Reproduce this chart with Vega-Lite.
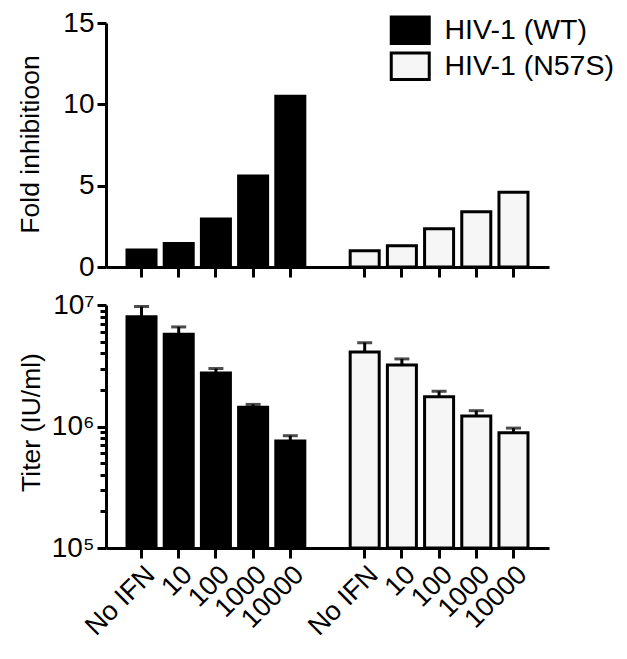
{
  "$schema": "https://vega.github.io/schema/vega-lite/v6.json",
  "padding": {"left": 16, "top": 9, "right": 0, "bottom": 0},
  "background": "white",
  "bounds": "flush",
  "spacing": 38,
  "config": {
    "font": "Liberation Sans",
    "view": {"stroke": null},
    "axis": {
      "domainColor": "black", "domainWidth": 3, "tickColor": "black", "tickWidth": 3,
      "labelColor": "black", "labelFontSize": 28, "labelFont": "Liberation Sans",
      "titleFontSize": 26.5, "titleFontWeight": "normal", "titleColor": "black", "titleFont": "Liberation Sans",
      "grid": false
    },
    "legend": {
      "orient": "none", "legendX": 290, "legendY": -7, "padding": 0,
      "symbolType": "M-2,-1.4H2V1.4H-2Z", "symbolSize": 361,
      "symbolStrokeColor": "black", "symbolStrokeWidth": 3,
      "labelFontSize": 28.5, "labelFont": "Liberation Sans", "labelColor": "black",
      "labelOffset": 20, "labelLimit": 400, "rowPadding": -4, "title": null
    }
  },
  "datasets": {
    "d": [
      {"strain": "HIV-1 (WT)", "key": "WT|No IFN", "fold": 1.05, "titer": 8000000, "titer_hi": 9700000},
      {"strain": "HIV-1 (WT)", "key": "WT|10", "fold": 1.45, "titer": 5750000, "titer_hi": 6600000},
      {"strain": "HIV-1 (WT)", "key": "WT|100", "fold": 2.95, "titer": 2750000, "titer_hi": 3000000},
      {"strain": "HIV-1 (WT)", "key": "WT|1000", "fold": 5.6, "titer": 1440000, "titer_hi": 1520000},
      {"strain": "HIV-1 (WT)", "key": "WT|10000", "fold": 10.5, "titer": 760000, "titer_hi": 840000},
      {"strain": "HIV-1 (N57S)", "key": "N57S|No IFN", "fold": 1.0, "titer": 4100000, "titer_hi": 4900000},
      {"strain": "HIV-1 (N57S)", "key": "N57S|10", "fold": 1.3, "titer": 3200000, "titer_hi": 3600000},
      {"strain": "HIV-1 (N57S)", "key": "N57S|100", "fold": 2.35, "titer": 1760000, "titer_hi": 1950000},
      {"strain": "HIV-1 (N57S)", "key": "N57S|1000", "fold": 3.4, "titer": 1220000, "titer_hi": 1350000},
      {"strain": "HIV-1 (N57S)", "key": "N57S|10000", "fold": 4.6, "titer": 890000, "titer_hi": 970000}
    ]
  },
  "vconcat": [
    {
      "width": 443,
      "height": 244,
      "data": {"name": "d"},
      "mark": {"type": "bar", "stroke": "black", "strokeWidth": 3},
      "encoding": {
        "x": {
          "field": "key", "type": "nominal",
          "scale": {"domain": ["WT|No IFN", "WT|10", "WT|100", "WT|1000", "WT|10000", "gap", "N57S|No IFN", "N57S|10", "N57S|100", "N57S|1000", "N57S|10000"], "paddingInner": 0.22, "paddingOuter": 0.565},
          "axis": {"values": ["WT|No IFN", "WT|10", "WT|100", "WT|1000", "WT|10000", "N57S|No IFN", "N57S|10", "N57S|100", "N57S|1000", "N57S|10000"], "labels": false, "title": null, "tickSize": 10}
        },
        "y": {
          "field": "fold", "type": "quantitative",
          "scale": {"domain": [0, 15]},
          "axis": {"values": [0, 5, 10, 15], "title": "Fold inhibitioon", "tickSize": 9, "labelPadding": 3, "titleX": -76, "titleY": 121, "titleBaseline": "middle", "titleAlign": "center", "titleAngle": -90}
        },
        "fill": {
          "field": "strain", "type": "nominal",
          "scale": {"domain": ["HIV-1 (WT)", "HIV-1 (N57S)"], "range": ["black", "#f6f6f6"]},
          "legend": {"title": null}
        }
      }
    },
    {
      "width": 443,
      "height": 243,
      "data": {"name": "d"},
      "encoding": {
        "x": {
          "field": "key", "type": "nominal",
          "scale": {"domain": ["WT|No IFN", "WT|10", "WT|100", "WT|1000", "WT|10000", "gap", "N57S|No IFN", "N57S|10", "N57S|100", "N57S|1000", "N57S|10000"], "paddingInner": 0.22, "paddingOuter": 0.565},
          "axis": {"values": ["WT|No IFN", "WT|10", "WT|100", "WT|1000", "WT|10000", "N57S|No IFN", "N57S|10", "N57S|100", "N57S|1000", "N57S|10000"], "labelExpr": "split(datum.value, '|')[1]", "labelAngle": -45, "labelAlign": "right", "labelBaseline": "top", "labelFontSize": 27, "labelPadding": 3, "title": null, "tickSize": 10}
        }
      },
      "layer": [
        {
          "mark": {"type": "bar", "stroke": "black", "strokeWidth": 3},
          "encoding": {
            "y": {
              "field": "titer", "type": "quantitative",
              "scale": {"type": "log", "domain": [100000, 10000000]},
              "axis": {
                "values": [100000, 200000, 300000, 400000, 500000, 600000, 700000, 800000, 900000, 1000000, 2000000, 3000000, 4000000, 5000000, 6000000, 7000000, 8000000, 9000000, 10000000],
                "labelExpr": "datum.value == 100000 ? '10⁵' : datum.value == 1000000 ? '10⁶' : datum.value == 10000000 ? '10⁷' : ''",
                "tickSize": {"condition": {"test": "datum.value == 100000 || datum.value == 1000000 || datum.value == 10000000", "value": 9}, "value": 6},
                "labelPadding": 3,
                "title": "Titer (IU/ml)", "titleX": -75, "titleY": 117, "titleBaseline": "middle", "titleAlign": "center", "titleAngle": -90
              }
            },
            "y2": {"datum": 100000},
            "fill": {"field": "strain", "type": "nominal", "legend": null}
          }
        },
        {
          "mark": {"type": "rule", "color": "black", "strokeWidth": 3},
          "encoding": {
            "y": {"field": "titer", "type": "quantitative"},
            "y2": {"field": "titer_hi"}
          }
        },
        {
          "mark": {"type": "tick", "color": "black", "thickness": 3, "size": 15, "orient": "horizontal"},
          "encoding": {
            "y": {"field": "titer_hi", "type": "quantitative"}
          }
        }
      ]
    }
  ]
}
